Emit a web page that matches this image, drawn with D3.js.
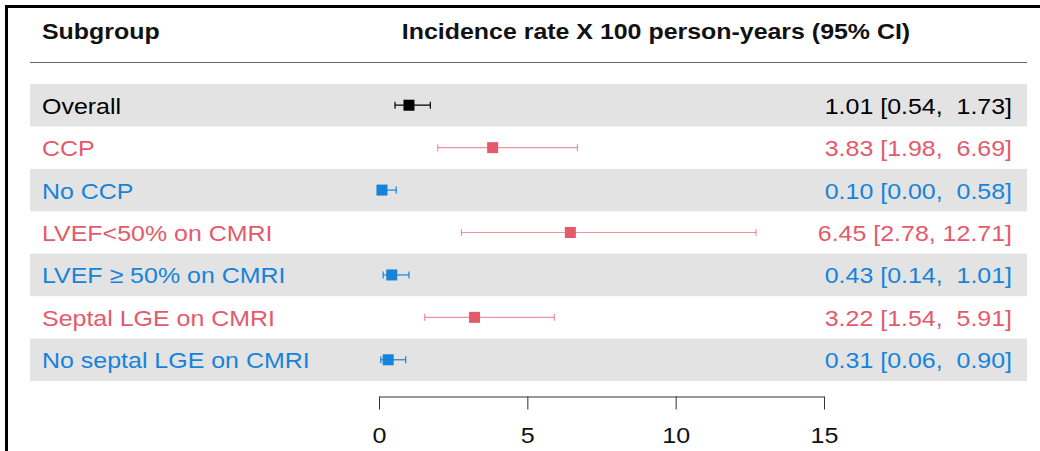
<!DOCTYPE html>
<html>
<head>
<meta charset="utf-8">
<script src="https://cdn.jsdelivr.net/npm/d3@7"></script>
<style>
  body { margin: 0; background: #fff; }
  text { font-family: "Liberation Sans", Arial, sans-serif; white-space: pre; }
</style>
</head>
<body>
<div id="chart"></div>
<script>
// data
const subgroups = ["Overall", "CCP", "No CCP", "LVEF<50% on CMRI", "LVEF \u2265 50% on CMRI", "Septal LGE on CMRI", "No septal LGE on CMRI"];
const groupType = ["all", "risk", "norisk", "risk", "norisk", "risk", "norisk"];
const estimate = [1.01, 3.83, 0.10, 6.45, 0.43, 3.22, 0.31];
const lower = [0.54, 1.98, 0.00, 2.78, 0.14, 1.54, 0.06];
const upper = [1.73, 6.69, 0.58, 12.71, 1.01, 5.91, 0.90];
const ciText = ["1.01 [0.54,  1.73]", "3.83 [1.98,  6.69]", "0.10 [0.00,  0.58]", "6.45 [2.78, 12.71]",
                "0.43 [0.14,  1.01]", "3.22 [1.54,  5.91]", "0.31 [0.06,  0.90]"];
const xTicks = [0, 5, 10, 15];

function drawForest(containerId) {
  const W = 1040, H = 451;

  const color = d3.scaleOrdinal()
      .domain(["all", "risk", "norisk"])
      .range(["#000000", "#E45A6B", "#1683DB"]);

  const svg = d3.select(`#${containerId}`)
      .append("svg")
          .attr("width", W)
          .attr("height", H);

  const rows = d3.range(subgroups.length);

  const y = d3.scaleBand()
      .domain(rows)
      .range([84, 381]);

  const x = d3.scaleLinear()
      .domain([0, 15])
      .range([379, 824]);

  // stretched text helper (source picture is stretched sideways)
  const label = (g, px, py, str, fs, sx) => g.append("text")
      .attr("transform", `translate(${px},${py}) scale(${sx},1)`)
      .style("font-size", fs + "px")
      .text(str);

  // zebra bands
  svg.append("g")
      .selectAll("rect")
      .data(rows.filter(i => i % 2 === 0))
      .join("rect")
          .attr("x", 30)
          .attr("width", 997)
          .attr("y", i => y(i))
          .attr("height", y.bandwidth())
          .attr("fill", "#e3e3e3");

  // header
  const head = svg.append("g").style("font-weight", "bold").attr("fill", "#111");
  label(head, 42, 39, "Subgroup", 21.5, 1.16);
  label(head, 656, 39, "Incidence rate X 100 person-years (95% CI)", 21.5, 1.16)
      .attr("text-anchor", "middle");

  svg.append("line")
      .attr("x1", 30)
      .attr("x2", 1027)
      .attr("y1", 62.5)
      .attr("y2", 62.5)
      .attr("stroke", "#666")
      .attr("stroke-width", 1.2);

  // row labels and CI text
  const txt = svg.append("g");
  rows.forEach(i => {
    const cy = y(i) + y.bandwidth() / 2;
    label(txt, 42, cy + 8.5, subgroups[i], 22.5, 1.11).attr("fill", color(groupType[i]));
    label(txt, 1012, cy + 8.5, ciText[i], 22.5, 1.11)
        .attr("text-anchor", "end")
        .attr("fill", color(groupType[i]));
  });

  // CI lines
  const ci = svg.append("g")
      .selectAll("g")
      .data(rows)
      .join("g")
          .attr("stroke", i => color(groupType[i]))
          .attr("stroke-opacity", i => groupType[i] === "risk" ? 0.65 : 1)
          .attr("stroke-width", 1.2);

  ci.append("line")
      .attr("x1", i => x(lower[i]))
      .attr("x2", i => x(upper[i]))
      .attr("y1", i => y(i) + y.bandwidth() / 2)
      .attr("y2", i => y(i) + y.bandwidth() / 2);

  [lower, upper].forEach(arr => {
    ci.append("line")
        .attr("x1", i => x(arr[i]))
        .attr("x2", i => x(arr[i]))
        .attr("y1", i => y(i) + y.bandwidth() / 2 - 3.5)
        .attr("y2", i => y(i) + y.bandwidth() / 2 + 3.5);
  });

  // point estimates
  const sq = 11;
  svg.append("g")
      .selectAll("rect")
      .data(rows)
      .join("rect")
          .attr("x", i => x(estimate[i]) - sq / 2)
          .attr("y", i => y(i) + y.bandwidth() / 2 - sq / 2)
          .attr("width", sq)
          .attr("height", sq)
          .attr("fill", i => color(groupType[i]));

  // x axis
  const axis = svg.append("g")
      .attr("transform", "translate(0,396.5)")
      .call(d3.axisBottom(x).tickValues(xTicks).tickSize(13).tickSizeOuter(0));
  axis.select(".domain").attr("stroke", "#333");
  axis.selectAll(".tick line").attr("stroke", "#333");
  axis.selectAll(".tick text").remove();
  axis.selectAll(".tick").each(function(d) {
    d3.select(this).append("text")
        .attr("transform", "translate(0,46) scale(1.14,1)")
        .attr("text-anchor", "middle")
        .attr("fill", "#111")
        .style("font-size", "22px")
        .text(d);
  });

  // outer frame
  svg.append("rect")
      .attr("x", 6.5)
      .attr("y", 6.5)
      .attr("width", W + 20)
      .attr("height", H + 20)
      .attr("fill", "none")
      .attr("stroke", "#000")
      .attr("stroke-width", 3);
}

drawForest("chart");
</script>
</body>
</html>
